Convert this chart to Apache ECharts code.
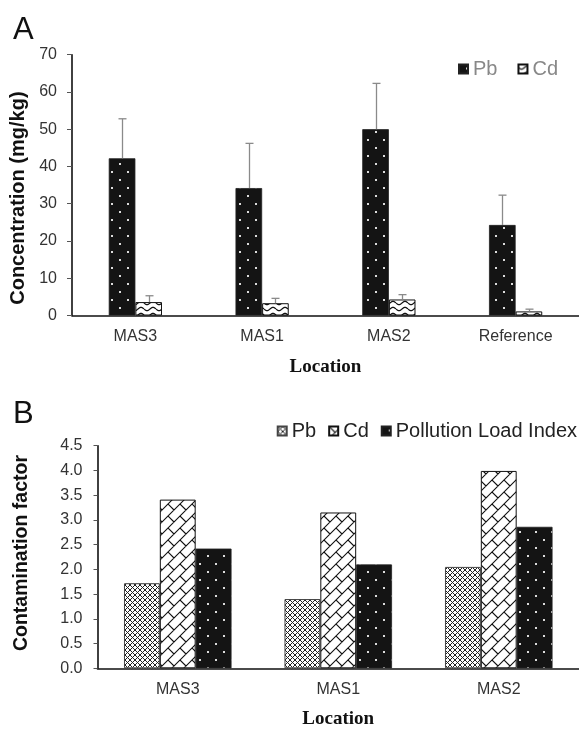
<!DOCTYPE html>
<html><head><meta charset="utf-8">
<script src="https://cdn.jsdelivr.net/npm/echarts@6/dist/echarts.min.js"></script>
<style>html,body{margin:0;padding:0;background:#fff}#c{width:579px;height:730px}</style>
</head><body><div id="c"></div>
<script>
// ---- data (panel A) ----
const locationsA = ['MAS3', 'MAS1', 'MAS2', 'Reference'];
const pbConc = [42.2, 34.2, 50.0, 24.3];
const pbErr = [10.6, 12.0, 12.3, 8.0];
const cdConc = [3.6, 3.3, 4.3, 1.1];
const cdErr = [1.7, 1.3, 1.3, 0.6];
const concAxis = [0, 70, 10];
// ---- data (panel B) ----
const locationsB = ['MAS3', 'MAS1', 'MAS2'];
const pbCF = [1.72, 1.40, 2.05];
const cdCF = [3.41, 3.15, 3.99];
const pliVals = [2.42, 2.10, 2.86];
const cfAxis = [0, 4.5, 0.5];

const FONT = '"Liberation Sans", Arial, sans-serif';

function tile(w, h, draw) {
  const c = document.createElement('canvas');
  c.width = w; c.height = h;
  const ctx = c.getContext('2d');
  draw(ctx, w, h);
  return { image: c, repeat: 'repeat' };
}
// black with white staggered dots
const dotsPat = tile(16, 16, (g, w, h) => {
  g.fillStyle = '#141414'; g.fillRect(0, 0, w, h);
  g.fillStyle = '#dcdcdc';
  g.fillRect(7, 3, 2, 2); g.fillRect(15, 11, 2, 2); g.fillRect(-1, 11, 2, 2);
});
// white with wavy lines
const wavePat = tile(12, 6, (g, w, h) => {
  g.fillStyle = '#fff'; g.fillRect(0, 0, w, h);
  g.strokeStyle = '#111'; g.lineWidth = 1.2;
  g.beginPath();
  for (let x = 0; x <= w; x += 0.5) {
    const y = 3 + 1.6 * Math.sin(x / w * Math.PI * 2);
    if (x === 0) g.moveTo(x, y); else g.lineTo(x, y);
  }
  g.stroke();
});
// fine crosshatch
const hatchPat = tile(5, 5, (g, w, h) => {
  g.fillStyle = '#fff'; g.fillRect(0, 0, w, h);
  g.strokeStyle = '#222'; g.lineWidth = 1;
  g.beginPath();
  g.moveTo(0, 0); g.lineTo(5, 5);
  g.moveTo(5, 0); g.lineTo(0, 5);
  g.stroke();
});
// trellis / diagonal brick
const trellisPat = tile(24, 12, (g, w, h) => {
  g.fillStyle = '#fff'; g.fillRect(0, 0, w, h);
  g.strokeStyle = '#111'; g.lineWidth = 1.1;
  g.beginPath();
  g.moveTo(-2, 14); g.lineTo(14, -2);
  g.moveTo(10, 14); g.lineTo(26, -2);
  g.moveTo(22, 14); g.lineTo(38, -2);
  g.moveTo(-14, 14); g.lineTo(2, -2);
  g.moveTo(0, 0); g.lineTo(6, 6);
  g.moveTo(12, 0); g.lineTo(18, 6);
  g.stroke();
});

function errSeries(vals, errs, side) {
  return {
    type: 'custom', xAxisIndex: 0, yAxisIndex: 0, z: 5, silent: true,
    data: vals.map((v, i) => [i, v, v + errs[i]]),
    renderItem(params, api) {
      const band = api.size([1, 0])[0];
      const bw = band * 0.42 / 2;
      const p0 = api.coord([api.value(0), api.value(1)]);
      const p1 = api.coord([api.value(0), api.value(2)]);
      const x = Math.round(p0[0] + side * bw / 2) + 0.5;
      return { type: 'group', children: [
        { type: 'line', shape: { x1: x, y1: p0[1], x2: x, y2: p1[1] }, style: { stroke: '#8a8a8a', lineWidth: 1.3 } },
        { type: 'line', shape: { x1: x - 4, y1: p1[1], x2: x + 4, y2: p1[1] }, style: { stroke: '#8a8a8a', lineWidth: 1.3 } }
      ] };
    }
  };
}

const axisLabelStyle = { fontFamily: FONT, fontSize: 16, color: '#333' };
const locName = { fontFamily: '"Liberation Serif", "Times New Roman", serif', fontWeight: 'bold', fontSize: 19, color: '#111' };

const option = {
  animation: false,
  backgroundColor: '#fff',
  graphic: [
    { type: 'text', left: 13, top: 15, style: { text: 'A', font: '31px ' + FONT, fill: '#111' } },
    { type: 'text', left: 13, top: 399, style: { text: 'B', font: '31px ' + FONT, fill: '#111' } }
  ],
  legend: [
    { data: ['Pb', 'Cd'], left: 458, top: 59, itemWidth: 9, itemHeight: 9, itemGap: 20, padding: 0, icon: 'rect',
      textStyle: { fontFamily: FONT, fontSize: 20, color: '#888' }, selectedMode: false },
    { data: ['Pb ', 'Cd ', 'Pollution Load Index'], right: 2, top: 421, itemWidth: 9, itemHeight: 9, itemGap: 12, padding: 0, icon: 'rect',
      formatter: n => n.trim(),
      textStyle: { fontFamily: FONT, fontSize: 20, color: '#222' }, selectedMode: false }
  ],
  grid: [
    { left: 72, top: 54.7, width: 509, height: 260.8 },
    { left: 97.5, top: 445.7, width: 483.5, height: 222.6 }
  ],
  xAxis: [
    { gridIndex: 0, type: 'category', data: locationsA,
      axisLine: { lineStyle: { color: '#111', width: 1.6 } }, axisTick: { show: false },
      axisLabel: Object.assign({ margin: 13 }, axisLabelStyle),
      name: 'Location', nameLocation: 'middle', nameGap: 42, nameTextStyle: locName },
    { gridIndex: 1, type: 'category', data: locationsB,
      axisLine: { lineStyle: { color: '#111', width: 1.6 } }, axisTick: { show: false },
      axisLabel: Object.assign({ margin: 13 }, axisLabelStyle),
      name: 'Location', nameLocation: 'middle', nameGap: 41, nameTextStyle: locName }
  ],
  yAxis: [
    { gridIndex: 0, type: 'value', min: concAxis[0], max: concAxis[1], interval: concAxis[2],
      axisLine: { show: true, lineStyle: { color: '#111', width: 1.6 } },
      axisTick: { show: true, length: 5, lineStyle: { color: '#555' } },
      splitLine: { show: false },
      axisLabel: Object.assign({ margin: 15 }, axisLabelStyle),
      name: 'Concentration (mg/kg)', nameLocation: 'middle', nameGap: 39,
      nameTextStyle: { fontFamily: FONT, fontWeight: 'bold', fontSize: 20, color: '#111', padding: [0, 26, 0, 0] } },
    { gridIndex: 1, type: 'value', min: cfAxis[0], max: cfAxis[1], interval: cfAxis[2],
      axisLine: { show: true, lineStyle: { color: '#111', width: 1.6 } },
      axisTick: { show: true, length: 4, lineStyle: { color: '#555' } },
      splitLine: { show: false },
      axisLabel: Object.assign({ margin: 15, formatter: v => v.toFixed(1) }, axisLabelStyle),
      name: 'Contamination factor', nameLocation: 'middle', nameGap: 66,
      nameTextStyle: { fontFamily: FONT, fontWeight: 'bold', fontSize: 19.5, color: '#111', padding: [0, 0, 0, 8] } }
  ],
  series: [
    { name: 'Pb', type: 'bar', xAxisIndex: 0, yAxisIndex: 0, data: pbConc, barGap: '0%', barCategoryGap: '58%',
      itemStyle: { color: dotsPat, borderColor: '#222', borderWidth: 0.8 } },
    { name: 'Cd', type: 'bar', xAxisIndex: 0, yAxisIndex: 0, data: cdConc, barGap: '0%', barCategoryGap: '58%',
      itemStyle: { color: wavePat, borderColor: '#111', borderWidth: 1 } },
    errSeries(pbConc, pbErr, -1),
    errSeries(cdConc, cdErr, 1),
    { name: 'Pb ', type: 'bar', xAxisIndex: 1, yAxisIndex: 1, data: pbCF, barGap: '0%', barCategoryGap: '33%',
      itemStyle: { color: hatchPat, borderColor: '#444', borderWidth: 1 } },
    { name: 'Cd ', type: 'bar', xAxisIndex: 1, yAxisIndex: 1, data: cdCF, barGap: '0%', barCategoryGap: '33%',
      itemStyle: { color: trellisPat, borderColor: '#111', borderWidth: 1 } },
    { name: 'Pollution Load Index', type: 'bar', xAxisIndex: 1, yAxisIndex: 1, data: pliVals, barGap: '0%', barCategoryGap: '33%',
      itemStyle: { color: dotsPat, borderColor: '#222', borderWidth: 0.8 } }
  ]
};
const chart = echarts.init(document.getElementById('c'), null, { renderer: 'canvas' });
chart.setOption(option);
</script>
</body></html>
